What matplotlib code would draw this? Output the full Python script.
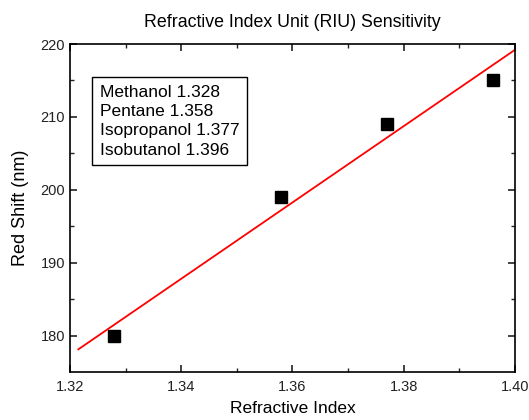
import numpy as np
import matplotlib.pyplot as plt

plt.rcParams['font.family'] = ['Liberation Sans', 'DejaVu Sans']

# data
refractive_index = [1.328, 1.358, 1.377, 1.396]
red_shift = [180, 199, 209, 215]
solvents = ['Methanol 1.328', 'Pentane 1.358', 'Isopropanol 1.377', 'Isobutanol 1.396']

fig = plt.figure(figsize=(5.29, 4.2), dpi=100)
ax = fig.add_axes([0.1323, 0.1143, 0.8412, 0.7809])

ax.plot(refractive_index, red_shift, 's', color='black', markersize=8.5, zorder=3)

# linear fit
slope, icpt = np.polyfit(refractive_index, red_shift, 1)
xfit = np.array([1.3215, 1.40])
ax.plot(xfit, slope * xfit + icpt, color='red', lw=1.3)

ax.set_xlim(1.32, 1.40)
ax.set_ylim(175, 220)
ax.set_xticks([1.32, 1.34, 1.36, 1.38, 1.40])
ax.set_xticklabels(['1.32', '1.34', '1.36', '1.38', '1.40'])
ax.set_yticks([180, 190, 200, 210, 220])
ax.set_xticks(np.arange(1.33, 1.40, 0.02), minor=True)
ax.set_yticks([185, 195, 205, 215], minor=True)
ax.tick_params(which='both', direction='in', top=True, right=True, labelsize=10.5, colors='#222222')
ax.tick_params(which='major', length=5, width=1.2)
ax.tick_params(which='minor', length=3, width=1)
ax.tick_params(axis='x', pad=6)
for s in ax.spines.values():
    s.set_linewidth(1.2)

ax.set_xlabel('Refractive Index', fontsize=12.5, labelpad=5)
ax.set_ylabel('Red Shift (nm)', fontsize=13, labelpad=8)
ax.set_title('Refractive Index Unit (RIU) Sensitivity', fontsize=12.8, pad=12)

ax.text(0.067, 0.875, '\n'.join(solvents), transform=ax.transAxes, fontsize=12.5,
        va='top', ha='left', linespacing=1.35,
        bbox=dict(boxstyle='square,pad=0.45', fc='white', ec='black', lw=1))

fig.savefig('out.png', dpi=100)
